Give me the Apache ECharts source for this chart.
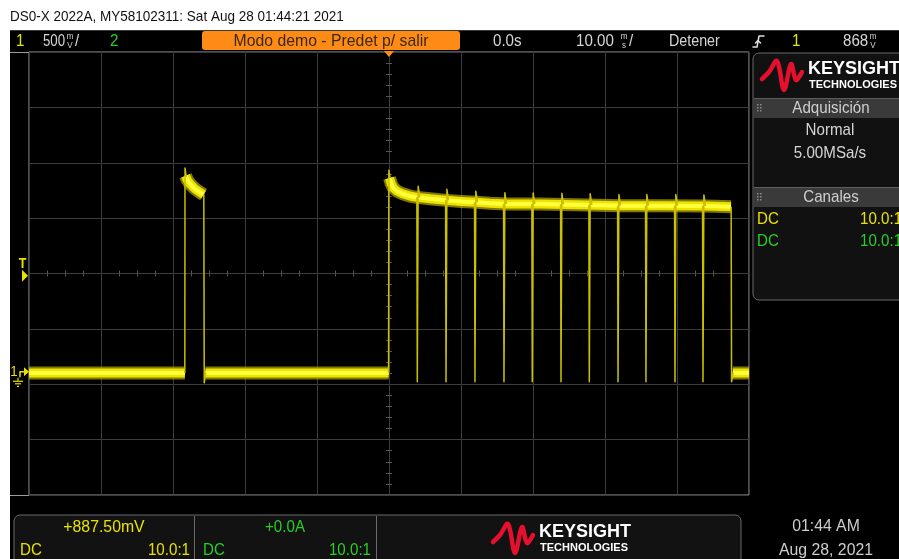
<!DOCTYPE html>
<html>
<head>
<meta charset="utf-8">
<script src="https://cdn.jsdelivr.net/npm/echarts@6/dist/echarts.min.js"></script>
<style>
  html, body { margin: 0; padding: 0; background: #ffffff; }
  #scope { width: 899px; height: 559px; }
</style>
</head>
<body>
<div id="scope"></div>
<script>
// Horizontal: 10 ms/div around the trigger point; vertical: channel 1 at 500 mV/div, offset +887.5 mV
const timeRangeMs = [-50, 50];
const msPerDiv = 10;
const voltsPerDiv = 0.5;
const channelOffsetV = 0.8875;
const triggerLevelV = 0.868;
const triggerTimeMs = 0;

// Steady levels of channel 1 (persistence band); null separates runs
const bandMs = [-50, -28.35, null,
  -28.25, -28.0, -27.6, -26.94, -26.25, -25.75, null,
  -25.5, -0.05, null,
  0.08, 0.3, 0.6, 1.1, 1.8, 2.9, 3.9, 6.0, 8.0, 10.0, 12.2, 14.0, 16.4, 21.0, 26.0, 32.0, 38.0, 44.0, 47.5, null,
  47.75, 50];
const bandV = [-0.01, -0.01, null,
  1.77, 1.73, 1.695, 1.652, 1.62, 1.60, null,
  -0.01, -0.01, null,
  1.75, 1.70, 1.66, 1.632, 1.61, 1.587, 1.575, 1.56, 1.548, 1.538, 1.53, 1.522, 1.515, 1.515, 1.508, 1.50, 1.50, 1.497, 1.49, null,
  -0.01, -0.01];

// Fast edges and drop-outs of channel 1 (thin strokes); null separates strokes
const edgeMs = [
  -28.36, -28.33, -28.15, null,
  -25.72, -25.66, -25.45, null,
  -0.06, -0.02, 0.15, null,
  3.87, 3.93, 4.05, 4.28, null,
  7.86, 7.92, 8.04, 8.27, null,
  11.88, 11.94, 12.06, 12.29, null,
  15.91, 15.97, 16.09, 16.32, null,
  19.84, 19.90, 20.02, 20.25, null,
  23.83, 23.89, 24.01, 24.24, null,
  27.76, 27.82, 27.94, 28.17, null,
  31.75, 31.81, 31.93, 32.16, null,
  35.63, 35.69, 35.81, 36.04, null,
  39.66, 39.72, 39.84, 40.07, null,
  43.55, 43.61, 43.73, 43.96, null,
  47.52, 47.58, 47.80];
const edgeV = [
  -0.01, 1.84, 1.76, null,
  1.60, -0.10, -0.01, null,
  -0.01, 1.82, 1.75, null,
  1.575, -0.09, 1.675, 1.575, null,
  1.548, -0.09, 1.648, 1.548, null,
  1.531, -0.09, 1.631, 1.531, null,
  1.517, -0.09, 1.617, 1.517, null,
  1.515, -0.09, 1.615, 1.515, null,
  1.512, -0.09, 1.612, 1.512, null,
  1.508, -0.09, 1.608, 1.508, null,
  1.500, -0.09, 1.600, 1.500, null,
  1.500, -0.09, 1.600, 1.500, null,
  1.500, -0.09, 1.600, 1.500, null,
  1.497, -0.09, 1.597, 1.497, null,
  1.49, -0.09, -0.01];

// Screen texts
const headerText = 'DS0-X 2022A, MY58102311: Sat Aug 28 01:44:21 2021';
const demoBanner = 'Modo demo - Predet p/ salir';
const acqTitle = 'Adquisición';
const acqMode = 'Normal';
const acqRate = '5.00MSa/s';
const chanTitle = 'Canales';
const ch1Offset = '+887.50mV';
const ch2Offset = '+0.0A';
const clockTime = '01:44 AM';
const clockDate = 'Aug 28, 2021';

const UI_FONT = '"Liberation Sans", Arial, sans-serif';
const LOGO_FONT = '"Liberation Sans", Arial, sans-serif';
const NARROW = 0.89;
const YELLOW = '#e9e100';
const GREEN = '#27cf27';
const GREYTXT = '#d6d6d6';
const GRID = { left: 29, top: 52, width: 720, height: 443 };

function toPairs(xs, ys) {
  return xs.map((x, i) => (ys[i] === null ? [xs[i - 1], '-'] : [x, ys[i]]));
}

const vMax = channelOffsetV + 4 * voltsPerDiv;
const vMin = channelOffsetV - 4 * voltsPerDiv;

const chart = echarts.init(document.getElementById('scope'), null, { renderer: 'canvas' });

const tickAxisX = (gridIndex, inside) => ({
  type: 'value', gridIndex, min: -5, max: 5, interval: 1,
  axisLine: { show: true, onZero: true, lineStyle: { color: '#3c3c3c', width: 1 } },
  axisTick: { show: false, inside },
  minorTick: { show: true, splitNumber: 4, length: 3, lineStyle: { color: '#555555', width: 1 } },
  axisLabel: { show: false }, splitLine: { show: false }
});
const tickAxisY = (gridIndex, inside) => ({
  type: 'value', gridIndex, min: -4, max: 4, interval: 1,
  axisLine: { show: true, onZero: true, lineStyle: { color: '#3c3c3c', width: 1 } },
  axisTick: { show: false, inside },
  minorTick: { show: true, splitNumber: 5, length: 3, lineStyle: { color: '#555555', width: 1 } },
  axisLabel: { show: false }, splitLine: { show: false }
});

const traceSeries = (xs, ys, width, color, z, opacity = 1) => ({
  type: 'line', xAxisIndex: 0, yAxisIndex: 0, data: toPairs(xs, ys),
  symbol: 'none', showSymbol: false, connectNulls: false, silent: true, z,
  emphasis: { disabled: true },
  lineStyle: { width, color, opacity, cap: 'butt', join: 'round' }
});

chart.setOption({
  animation: false,
  backgroundColor: '#000000',
  grid: [
    Object.assign({ show: true, borderColor: '#9c9c9c', borderWidth: 1, backgroundColor: 'transparent', outerBoundsMode: 'none' }, GRID),
    Object.assign({ show: false, outerBoundsMode: 'none' }, GRID),
    Object.assign({ show: false, outerBoundsMode: 'none' }, GRID)
  ],
  xAxis: [
    {
      type: 'value', gridIndex: 0, min: timeRangeMs[0], max: timeRangeMs[1], interval: msPerDiv,
      axisLine: { show: false }, axisTick: { show: false }, axisLabel: { show: false },
      splitLine: { show: true, lineStyle: { color: '#3c3c3c', width: 1 } }
    },
    tickAxisX(1, true),
    tickAxisX(2, false)
  ],
  yAxis: [
    { type: 'value', gridIndex: 0, min: vMin, max: vMax, show: false },
    {
      type: 'value', gridIndex: 0, min: -4, max: 4, interval: 1,
      axisLine: { show: false }, axisTick: { show: false }, axisLabel: { show: false },
      splitLine: { show: true, lineStyle: { color: '#3c3c3c', width: 1 } }
    },
    tickAxisY(1, true),
    tickAxisY(2, false)
  ],
  series: [
    traceSeries(bandMs, bandV, 13, '#b8ad00', 3, 0.7),
    traceSeries(bandMs, bandV, 9, '#eee200', 4),
    traceSeries(bandMs, bandV, 4, '#ffff3c', 5),
    traceSeries(edgeMs, edgeV, 1.5, '#cbc000', 6)
  ]
});

// ---- screen furniture drawn with the graphic component ----
const els = [];
const rect = (x, y, w, h, fill, o = {}) => els.push({
  type: 'rect', silent: true, z: o.z || 1,
  shape: { x, y, width: w, height: h, r: o.r || 0 },
  style: { fill, stroke: o.stroke || null, lineWidth: o.lw || 1 }
});
const seg = (x1, y1, x2, y2, stroke, lw = 1, z = 2) => els.push({
  type: 'line', silent: true, z, shape: { x1, y1, x2, y2 }, style: { stroke, lineWidth: lw }
});
const txt = (x, y, s, fill, size, align = 'left', o = {}) => els.push({
  type: 'text', silent: true, z: 10, x, y, scaleX: o.scaleX || NARROW,
  style: {
    text: s, fill, fontSize: size, fontFamily: o.font || UI_FONT, fontWeight: o.weight || 'normal',
    align, verticalAlign: 'middle'
  }
});
const poly = (pts, fill, z = 10) => els.push({ type: 'polygon', silent: true, z, shape: { points: pts }, style: { fill } });
const pline = (pts, stroke, lw, z = 10, smooth = 0) => els.push({
  type: 'polyline', silent: true, z, shape: { points: pts, smooth },
  style: { stroke, lineWidth: lw, fill: null, lineCap: 'round', lineJoin: 'round' }
});
const stackedUnit = (x, y, top, bottom, color) => {
  txt(x, y - 4, top, color, 9, 'center');
  txt(x, y + 5, bottom, color, 9, 'center');
};
const keysightLogo = (x, y) => {
  const wave = [[0, 20], [7, 13], [15, 2], [22, 31], [29, 5], [34, 21], [40, 13]];
  pline(wave.map(p => [x + p[0], y + p[1]]), '#e4102e', 4.5, 10, 0.35);
  txt(x + 46, y + 10, 'KEYSIGHT', '#ffffff', 18, 'left', { font: LOGO_FONT, weight: 'bold', scaleX: 1 });
  txt(x + 47, y + 26, 'TECHNOLOGIES', '#ffffff', 11, 'left', { font: LOGO_FONT, weight: 'bold', scaleX: 1 });
};
const grip = (x, y) => {
  for (let c = 0; c < 2; c++) for (let r = 0; r < 3; r++) rect(x + c * 3, y + r * 3, 1.5, 1.5, '#8a8a8a', { z: 6 });
};

// white page margins and file header
rect(0, 0, 899, 30, '#ffffff');
rect(0, 30, 10, 529, '#ffffff');
txt(10, 17, headerText, '#111111', 15, 'left', { scaleX: 0.9 });

// status line
seg(10, 30.5, 899, 30.5, '#3a3a3a');
txt(16, 41, '1', YELLOW, 17);
txt(43, 41, '500', GREYTXT, 17, 'left', { scaleX: 0.78 });
stackedUnit(70, 41, 'm', 'V', GREYTXT);
txt(75, 41, '/', GREYTXT, 17);
txt(110, 41, '2', GREEN, 17);
rect(202, 31, 258, 19, '#ff8b17', { r: 3, z: 3 });
txt(331, 41, demoBanner, '#3a2810', 17, 'center', { scaleX: 0.93 });
txt(493, 41, '0.0s', GREYTXT, 17);
txt(576, 41, '10.00', GREYTXT, 17);
stackedUnit(624, 41, 'm', 's', GREYTXT);
txt(629, 41, '/', GREYTXT, 17);
txt(669, 41, 'Detener', GREYTXT, 17, 'left', { scaleX: 0.84 });
pline([[753, 47], [757, 47], [759, 36], [764, 36]], '#e0e0e0', 1.5);
pline([[755.5, 43], [758, 40.5], [760.5, 43]], '#e0e0e0', 1.5);
txt(792, 41, '1', YELLOW, 17);
txt(843, 41, '868', GREYTXT, 17);
stackedUnit(873, 41, 'm', 'V', GREYTXT);

// graticule frame outside the plotting grid
seg(10, 52.5, 29, 52.5, '#9c9c9c');
seg(10, 495.5, 29, 495.5, '#9c9c9c');

// right side information panel
rect(753, 53, 160, 247, '#111111', { r: 6, stroke: '#6a6a6a', z: 2 });
keysightLogo(762, 59);
rect(754, 98, 150, 20, '#3a3a3a', { z: 4 });
seg(754, 98.5, 899, 98.5, '#5e5e5e', 1, 5);
grip(757, 104);
txt(831, 108, acqTitle, '#cfcfcf', 17, 'center');
txt(830, 130, acqMode, GREYTXT, 17, 'center');
txt(830, 153, acqRate, GREYTXT, 17, 'center');
rect(754, 187, 150, 20, '#3a3a3a', { z: 4 });
seg(754, 187.5, 899, 187.5, '#5e5e5e', 1, 5);
grip(757, 193);
txt(831, 197, chanTitle, '#cfcfcf', 17, 'center');
txt(757, 219, 'DC', YELLOW, 17);
txt(860, 219, '10.0:1', YELLOW, 17);
txt(757, 241, 'DC', GREEN, 17);
txt(860, 241, '10.0:1', GREEN, 17);

// bottom channel panel
rect(14, 515, 727, 60, '#121212', { r: 6, stroke: '#6a6a6a', z: 2 });
seg(194.5, 516, 194.5, 559, '#6a6a6a', 1, 3);
seg(376.5, 516, 376.5, 559, '#6a6a6a', 1, 3);
txt(104, 527, ch1Offset, YELLOW, 17, 'center', { scaleX: 0.93 });
txt(20, 550, 'DC', YELLOW, 17);
txt(190, 550, '10.0:1', YELLOW, 17, 'right');
txt(285, 527, ch2Offset, GREEN, 17, 'center');
txt(203, 550, 'DC', GREEN, 17);
txt(371, 550, '10.0:1', GREEN, 17, 'right');
keysightLogo(493, 522);

// clock
txt(826, 526, clockTime, '#cdcdcd', 17, 'center', { scaleX: 0.93 });
txt(826, 550, clockDate, '#cdcdcd', 17, 'center', { scaleX: 0.93 });

// markers placed from the axes: trigger level, channel 1 ground, trigger time
const trigY = chart.convertToPixel({ yAxisIndex: 0 }, triggerLevelV);
const gndY = chart.convertToPixel({ yAxisIndex: 0 }, 0);
const trigX = chart.convertToPixel({ xAxisIndex: 0 }, triggerTimeMs);

txt(22.5, trigY - 12, 'T', YELLOW, 14, 'center', { weight: 'bold' });
poly([[22, trigY - 6], [28, trigY], [22, trigY + 6]], YELLOW);

txt(14, gndY, '1', YELLOW, 15, 'center');
pline([[20, gndY + 5], [20, gndY], [24, gndY]], YELLOW, 1.5);
poly([[24, gndY - 4.5], [29, gndY], [24, gndY + 4.5]], YELLOW);
seg(18, gndY + 6, 18, gndY + 9, YELLOW, 1.2, 10);
seg(13, gndY + 9.5, 23, gndY + 9.5, YELLOW, 1.2, 10);
seg(15, gndY + 12, 21, gndY + 12, YELLOW, 1.2, 10);
seg(17, gndY + 14.5, 19, gndY + 14.5, YELLOW, 1.2, 10);

poly([[trigX - 5, 51], [trigX + 5, 51], [trigX, 57]], '#ff8b17');

chart.setOption({ graphic: { elements: els } });
</script>
</body>
</html>
